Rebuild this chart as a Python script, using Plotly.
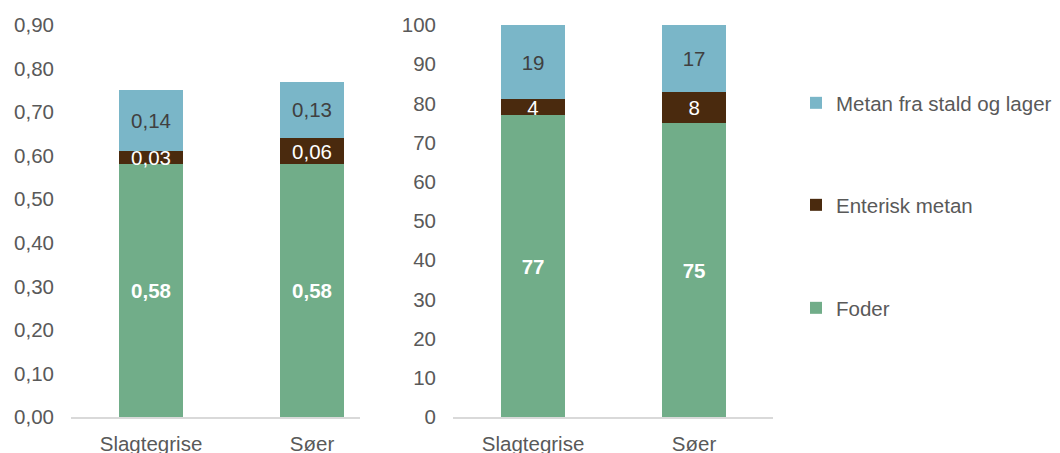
import plotly.graph_objects as go

# Categories and values (absolute and percentage shares)
categories = ["Slagtegrise", "Søer"]
series_names = ["Foder", "Enterisk metan", "Metan fra stald og lager"]
abs_foder = [0.58, 0.58]
abs_enterisk = [0.03, 0.06]
abs_stald = [0.14, 0.13]
pct_foder = [77, 75]
pct_enterisk = [4, 8]
pct_stald = [19, 17]

colors = {"Foder": "#71AD89", "Enterisk metan": "#4A2A0E", "Metan fra stald og lager": "#7AB6C8"}
label_style = {
    "Foder": dict(color="white", family="Liberation Sans", size=20.5, weight="bold"),
    "Enterisk metan": dict(color="white", family="Liberation Sans", size=20.5),
    "Metan fra stald og lager": dict(color="#404040", family="Liberation Sans", size=20.5),
}
legend_ref = {"Metan fra stald og lager": "legend", "Enterisk metan": "legend2", "Foder": "legend3"}

W, H = 1060, 453
fig = go.Figure()

left = [abs_foder, abs_enterisk, abs_stald]
right = [pct_foder, pct_enterisk, pct_stald]
for name, vals_l, vals_r in zip(series_names, left, right):
    for vals, xa, ya, fmt, show in ((vals_l, "x", "y", "%{y:.2f}", True), (vals_r, "x2", "y2", "%{y:.0f}", False)):
        fig.add_trace(go.Bar(
            x=categories, y=vals, name=name, xaxis=xa, yaxis=ya,
            width=0.4, marker=dict(color=colors[name], line=dict(width=0)),
            texttemplate=fmt, textposition="inside", insidetextanchor="middle",
            textangle=0, constraintext="none", textfont=label_style[name],
            showlegend=show, legend=legend_ref[name], hoverinfo="skip",
        ))

tick_font = dict(family="Liberation Sans", size=20.5, color="#595959")
y_dom = [(H - 417) / H, (H - 25) / H]

common_x = dict(showline=True, linecolor="#D9D9D9", linewidth=1.5, tickfont=tick_font,
                ticks="", showgrid=False, automargin=False, ticklabelstandoff=8)
common_y = dict(showgrid=False, zeroline=False, showline=False, ticks="",
                tickfont=tick_font, ticklabelstandoff=16, automargin=False)

fig.update_layout(
    width=W, height=H, barmode="stack",
    margin=dict(l=0, r=0, t=0, b=0),
    paper_bgcolor="white", plot_bgcolor="white",
    separators=",.",
    xaxis=dict(domain=[71 / W, 360 / W], range=[-0.497, 1.298], **common_x),
    yaxis=dict(domain=y_dom, range=[0, 0.9], dtick=0.1, tickformat=".2f", **common_y),
    xaxis2=dict(domain=[453 / W, 773 / W], range=[-0.497, 1.49], anchor="y2", **common_x),
    yaxis2=dict(domain=y_dom, range=[0, 100], dtick=10, anchor="x2", **common_y),
)

legend_common = dict(font=tick_font, xanchor="left", yanchor="middle", bgcolor="rgba(0,0,0,0)")
fig.update_layout(
    legend=dict(x=796 / W, y=1 - 103 / H, **legend_common),
    legend2=dict(x=796 / W, y=1 - 205 / H, **legend_common),
    legend3=dict(x=796 / W, y=1 - 308 / H, **legend_common),
)

fig.write_html("out.html")
